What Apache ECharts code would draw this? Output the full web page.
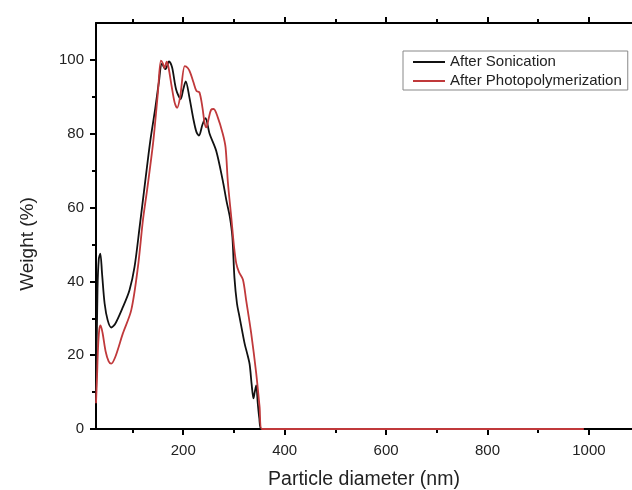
<!DOCTYPE html>
<html>
<head>
<meta charset="utf-8">
<script src="https://cdn.jsdelivr.net/npm/echarts@6/dist/echarts.min.js"></script>
<style>
  html, body { margin: 0; padding: 0; background: #fff; }
  #chart { width: 632px; height: 490px; }
</style>
</head>
<body>
<div id="chart"></div>
<script>
// After Sonication (black)
const sonicX = [28, 31, 33.5, 36.5, 40, 45, 51, 58, 66, 81, 94, 104, 114, 125, 135, 145, 152, 158, 165, 172, 178, 186, 195, 200, 205, 212, 220, 226, 231, 238, 244, 252, 265, 278, 285, 292, 297, 301, 306, 311, 321, 326, 331, 335, 338.5, 341, 344, 347, 350, 354, 370, 990]
const sonicY = [8, 38, 46, 47.5, 42, 34, 29.5, 27.5, 28.5, 33, 37.6, 43.9, 54.7, 67, 78, 87, 94, 99, 97.5, 99.6, 98, 92, 89.4, 92, 94.2, 90, 84, 80.5, 79.5, 82.5, 84.2, 80, 75.4, 67.3, 62, 57.4, 52, 41, 34, 30.4, 23.2, 20.5, 17.5, 12, 8.3, 10, 11.8, 7, 3, 0, 0, 0]
// After Photopolymerization (red)
const photoX = [28, 30, 32, 34.5, 37, 41, 47, 53, 58, 66, 81, 97.5, 110.7, 120.5, 129, 141, 150, 156, 160, 163, 167.5, 171, 177, 183, 188, 194, 203, 209, 214, 220, 226, 232, 238, 242, 245.5, 250, 255, 260, 268, 278, 283.5, 288, 295, 300.5, 304.7, 310, 317.7, 324, 334, 344, 350.6, 355, 370, 990]
const photoY = [7, 14, 22, 27, 28.1, 26, 21, 18.3, 17.7, 19.5, 25.9, 32.2, 43.9, 56.5, 65, 78, 91, 99.8, 99, 97.8, 99.5, 98, 93, 88.5, 87, 90, 98.3, 97.8, 96.5, 94, 91.6, 91.2, 87, 83, 81.7, 84, 86.5, 86.7, 84.5, 80, 76.3, 67, 57, 49, 44.8, 42.5, 40.5, 35, 26, 15, 6, 0, 0, 0]

const xMajor = [200, 400, 600, 800, 1000]
const xMinor = [100, 300, 500, 700, 900]
const yMajor = [0, 20, 40, 60, 80, 100]
const yMinor = [10, 30, 50, 70, 90]

const font = 'Liberation Sans, Arial, sans-serif'
const ink = '#222'

const zip = (xs, ys) => xs.map((x, i) => [x, ys[i]])

const xBase = { type: 'value', min: 28, max: 1085, splitLine: { show: false } }
const yBase = { type: 'value', min: 0, max: 110, splitLine: { show: false } }
const axisLine = { show: true, onZero: false, lineStyle: { color: '#000', width: 2 } }
const ticks = (values, len) => ({ show: true, customValues: values, length: len, lineStyle: { color: '#000', width: 2 } })
const noLabel = { show: false }
const box = { left: 96, right: 0, top: 23, bottom: 61, outerBoundsMode: 'none', containLabel: false }

const chart = echarts.init(document.getElementById('chart'))
const option = {
  animation: false,
  // second grid sits on the first one and only carries the minor ticks
  grid: [{ ...box }, { ...box }],
  legend: {
    orient: 'vertical',
    left: 403,
    top: 51,
    padding: [3, 6, 1, 10],
    itemGap: 3,
    itemWidth: 32,
    itemHeight: 2,
    icon: 'rect',
    borderColor: '#888',
    borderWidth: 1,
    textStyle: { fontFamily: font, fontSize: 15, color: ink, lineHeight: 16 },
    data: ['After Sonication', 'After Photopolymerization']
  },
  xAxis: [
    {
      ...xBase,
      gridIndex: 0,
      position: 'bottom',
      axisLine,
      axisTick: ticks(xMajor, 6),
      axisLabel: { customValues: xMajor, formatter: v => String(v), fontFamily: font, fontSize: 15, color: ink, margin: 14 },
      name: 'Particle diameter (nm)',
      nameLocation: 'middle',
      nameGap: 41,
      nameTextStyle: { fontFamily: font, fontSize: 19.5, color: ink }
    },
    { ...xBase, gridIndex: 0, position: 'top', axisLine, axisTick: ticks(xMajor, 6), axisLabel: noLabel },
    { ...xBase, gridIndex: 1, position: 'bottom', axisLine: { show: false }, axisTick: ticks(xMinor, 4), axisLabel: noLabel },
    { ...xBase, gridIndex: 1, position: 'top', axisLine: { show: false }, axisTick: ticks(xMinor, 4), axisLabel: noLabel }
  ],
  yAxis: [
    {
      ...yBase,
      gridIndex: 0,
      position: 'left',
      axisLine,
      axisTick: ticks(yMajor, 6),
      axisLabel: { customValues: yMajor, formatter: v => (v > 100 ? '' : String(v)), fontFamily: font, fontSize: 15, color: ink, margin: 12 }
    },
    { ...yBase, gridIndex: 1, position: 'left', axisLine: { show: false }, axisTick: ticks(yMinor, 4), axisLabel: noLabel }
  ],
  graphic: [
    {
      type: 'text',
      x: 28,
      y: 244,
      rotation: Math.PI / 2,
      style: { text: 'Weight (%)', font: '19px ' + font, fill: ink, textAlign: 'center', textVerticalAlign: 'middle' }
    }
  ],
  series: [
    {
      name: 'After Sonication',
      type: 'line',
      xAxisIndex: 0,
      yAxisIndex: 0,
      data: zip(sonicX, sonicY),
      smooth: 0.3,
      showSymbol: false,
      lineStyle: { color: '#111', width: 1.8 },
      itemStyle: { color: '#111' }
    },
    {
      name: 'After Photopolymerization',
      type: 'line',
      xAxisIndex: 0,
      yAxisIndex: 0,
      data: zip(photoX, photoY),
      smooth: 0.3,
      showSymbol: false,
      lineStyle: { color: '#c0393b', width: 1.8 },
      itemStyle: { color: '#c0393b' }
    }
  ]
}
chart.setOption(option)
</script>
</body>
</html>
